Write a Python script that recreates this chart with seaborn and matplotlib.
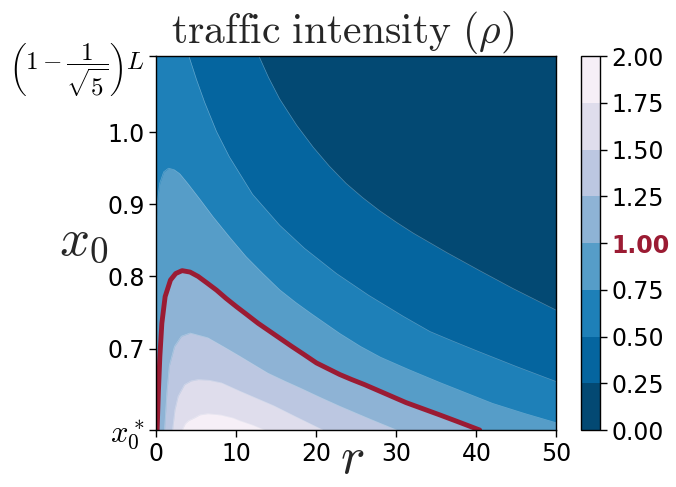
import numpy as np
import seaborn as sns
import matplotlib
matplotlib.use('Agg')
from matplotlib import pyplot as plt
import matplotlib.cm as cm
import matplotlib.colors as colors

sns.set_style("ticks")
plt.rcParams['font.family'] = ['DejaVu Sans']
plt.rcParams['mathtext.fontset'] = 'cm'

RED = '#9b1b33'

# axis range of x0 (bottom = x0*, top = (1 - 1/sqrt5) L)
X0_STAR = 0.587
X0_TOP = 1.1056
levels = [0.0, 0.25, 0.5, 0.75, 1.0, 1.25, 1.5, 1.75, 2.0]

r_025 = [0.0, 12.8, 14.0, 15.4, 17.5, 19.6, 21.6, 23.7, 25.8, 27.9, 30.0, 32.1, 36.3, 40.4,
         44.6, 50.0]
x0_025 = [X0_TOP, X0_TOP, 1.076, 1.046, 1.010, 0.979, 0.953, 0.929, 0.909, 0.891, 0.875,
          0.860, 0.833, 0.808, 0.783, 0.753]

r_050 = [0.0, 4.05, 5.0, 6.0, 7.5, 9.1, 12.0, 15.4, 18.5, 22.5, 26.5, 30.8, 34.2, 37.0,
         40.0, 45.0, 50.0]
x0_050 = [X0_TOP, X0_TOP, 1.073, 1.042, 1.001, 0.966, 0.914, 0.871, 0.839, 0.804, 0.774,
          0.745, 0.7235, 0.7105, 0.697, 0.675, 0.654]

r_075 = [0.0, 0.08, 0.4, 0.9, 1.5, 2.2, 2.9, 3.9, 5.5, 7.05, 9.1, 11.2, 13.3, 15.4, 17.4,
         19.4, 22.9, 25.5, 28.0, 31.5, 35.4, 42.0, 46.0, 50.0]
x0_075 = [0.883, 0.901, 0.929, 0.945, 0.950, 0.948, 0.9425, 0.929, 0.906, 0.883, 0.855,
          0.8275, 0.804, 0.7815, 0.764, 0.748, 0.721, 0.703, 0.688, 0.671, 0.653, 0.624,
          0.610, 0.597]

r_100 = [0.08, 0.25, 0.42, 0.67, 1.08, 1.75, 2.4, 3.2, 4.2, 5.2, 6.3, 7.5, 8.7, 10.0, 11.3,
         12.7, 14.8, 16.9, 18.4, 20.0, 22.9, 24.4, 26.0, 28.5, 31.2, 33.3, 35.4, 37.8, 40.4]
x0_100 = [0.587, 0.643, 0.689, 0.735, 0.772, 0.795, 0.804, 0.808, 0.806, 0.800, 0.791, 0.781,
          0.7695, 0.758, 0.747, 0.735, 0.719, 0.703, 0.692, 0.680, 0.664, 0.657, 0.650,
          0.638, 0.625, 0.6165, 0.608, 0.598, 0.587]

r_125 = [1.0, 1.3, 1.6, 2.25, 3.1, 4.2, 6.4, 8.3, 10.3, 12.1, 13.9, 16.0, 18.0, 20.5, 22.9,
         26.5, 30.0]
x0_125 = [0.587, 0.640, 0.676, 0.703, 0.717, 0.7215, 0.715, 0.703, 0.690, 0.678, 0.666,
          0.655, 0.645, 0.632, 0.620, 0.603, 0.587]

r_150 = [2.0, 2.3, 2.7, 3.5, 4.3, 5.2, 6.6, 8.1, 10.4, 12.5, 14.6, 17.3, 20.8]
x0_150 = [0.587, 0.615, 0.634, 0.650, 0.655, 0.657, 0.656, 0.6525, 0.641, 0.631, 0.621,
          0.606, 0.587]

r_175 = [3.2, 3.6, 4.0, 4.75, 5.4, 6.4, 8.0, 9.5, 10.4, 12.0, 13.5]
x0_175 = [0.587, 0.596, 0.600, 0.604, 0.608, 0.6097, 0.608, 0.604, 0.600, 0.594, 0.587]

boundaries = [(r_025, x0_025), (r_050, x0_050), (r_075, x0_075), (r_100, x0_100),
              (r_125, x0_125), (r_150, x0_150), (r_175, x0_175)]

mids = (np.array(levels[:-1]) + np.array(levels[1:])) / 2
band_colors = plt.get_cmap('PuBu_r')(mids / levels[-1])

fig = plt.figure(figsize=(6.76, 4.87), dpi=100)
ax = fig.add_axes([0.2315, 0.117, 0.5917, 0.768])
ax.set_facecolor(band_colors[0])

for i, (rr, xx) in enumerate(boundaries):
    ax.fill_between(rr, X0_STAR, xx, color=band_colors[i + 1], lw=0)
    if levels[i + 1] != 1.0:
        ax.plot(rr, xx, color='white', lw=0.5, alpha=0.3)

sns.lineplot(x=r_100, y=x0_100, color=RED, lw=3.5, ax=ax, estimator=None, sort=False)

ax.set_xlim(0, 50)
ax.set_ylim(X0_STAR, X0_TOP)
ax.set_xticks([0, 10, 20, 30, 40, 50])
ax.set_yticks([X0_STAR, 0.7, 0.8, 0.9, 1.0, X0_TOP])
ax.set_yticklabels([r'$x_0^*$', '0.7', '0.8', '0.9', '1.0',
                    r'$\left(1-\dfrac{1}{\sqrt{5}}\right)L$'])
ax.tick_params(labelsize=17, length=5, width=1, color='black', labelcolor='black')
yl = ax.get_yticklabels()
yl[0].set_fontsize(22)
yl[-1].set_fontsize(18)
for s in ax.spines.values():
    s.set_color('black')
    s.set_linewidth(1)

ax.set_title(r'$\mathrm{traffic\ intensity\ }(\rho)$', fontsize=30, x=0.465, pad=6)
ax.set_xlabel(r'$r$', fontsize=37, va='baseline')
ax.xaxis.set_label_coords(0.49, -0.115)
ax.set_ylabel(r'$x_0$', fontsize=38, rotation=0, ha='right', va='center')
ax.yaxis.set_label_coords(-0.12, 0.51)

cax = fig.add_axes([0.860, 0.117, 0.0274, 0.768])
sm = cm.ScalarMappable(norm=colors.BoundaryNorm(levels, len(band_colors)),
                       cmap=colors.ListedColormap(band_colors))
cb = fig.colorbar(sm, cax=cax, ticks=levels)
cb.ax.set_yticklabels([f'{v:.2f}' for v in levels])
cb.ax.tick_params(labelsize=17, length=5, width=1, color='black', labelcolor='black')
cb.outline.set_edgecolor('black')
cb.outline.set_linewidth(1)
for lab in cb.ax.get_yticklabels():
    if lab.get_text() == '1.00':
        lab.set_color(RED)
        lab.set_fontweight('bold')

fig.savefig('out.png', dpi=100)
